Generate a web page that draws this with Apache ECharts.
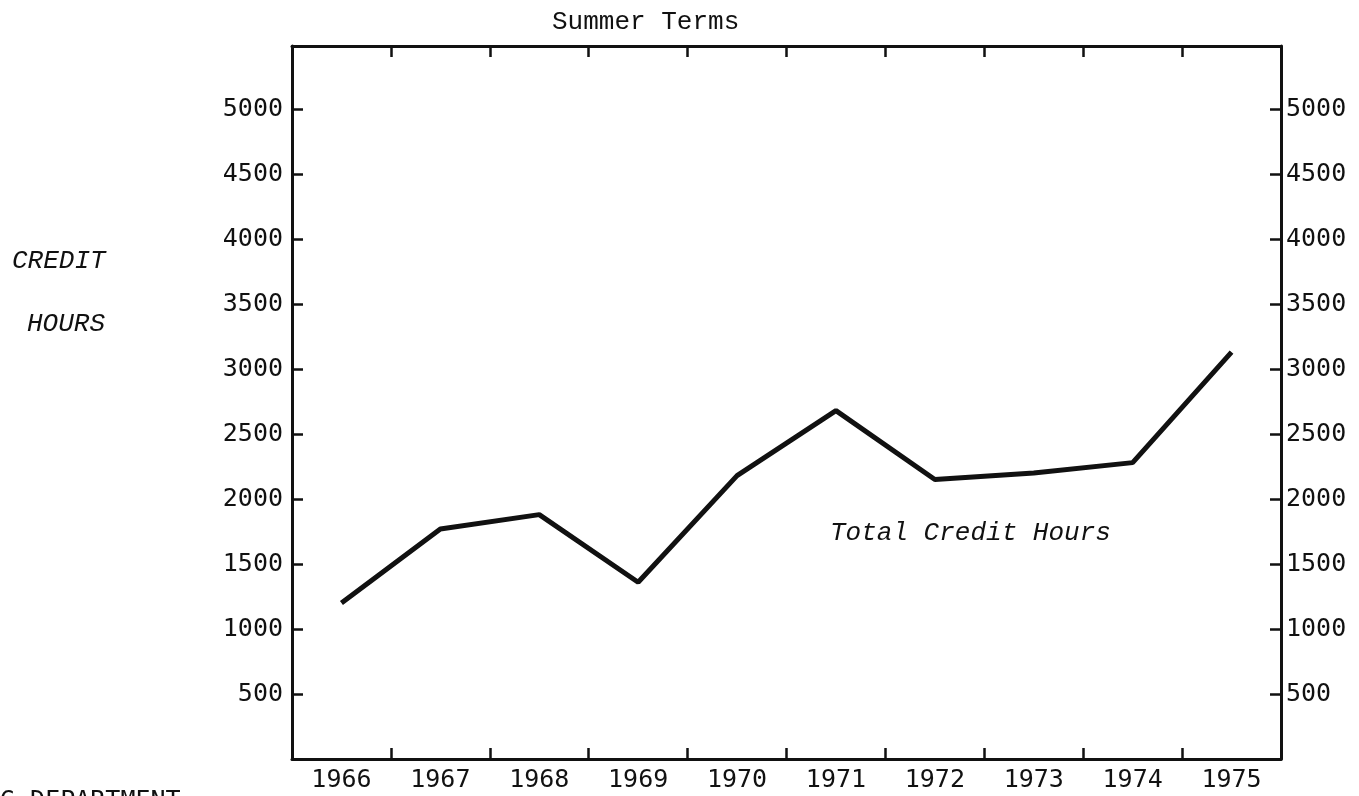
<!DOCTYPE html>
<html>
<head>
<meta charset="utf-8">
<script src="https://cdn.jsdelivr.net/npm/echarts@6/dist/echarts.min.js"></script>
<style>
  html, body { margin: 0; padding: 0; background: #fff; }
  #chart { width: 1359px; height: 796px; }
</style>
</head>
<body>
<div id="chart"></div>
<script>
// summer term credit hours
const years = ['1966', '1967', '1968', '1969', '1970', '1971', '1972', '1973', '1974', '1975']
const creditHours = [1200, 1770, 1880, 1360, 2180, 2680, 2150, 2200, 2280, 3130]
const yTicks = [500, 1000, 1500, 2000, 2500, 3000, 3500, 4000, 4500, 5000]

const ink = '#111'
const numFont = 'DejaVu Sans Mono'

const chart = echarts.init(document.getElementById('chart'))

const yLabel = v => (yTicks.indexOf(v) >= 0 ? String(v) : '')

function yAxisOf(pos) {
  return {
    type: 'value',
    position: pos,
    min: 0,
    max: 5485,
    interval: 500,
    splitLine: { show: false },
    axisLine: { show: true, onZero: false, lineStyle: { color: ink, width: 3 } },
    axisTick: { show: true, inside: true, length: 11, lineStyle: { color: ink, width: 2.5 } },
    axisLabel: {
      show: true,
      margin: pos === 'left' ? 9 : 5,
      color: ink,
      fontFamily: numFont,
      fontSize: 25,
      formatter: yLabel
    }
  }
}

chart.setOption({
  animation: false,
  backgroundColor: '#fff',
  grid: {
    left: 292,
    right: 78,
    top: 46,
    bottom: 37,
    outerBoundsMode: 'none'
  },
  xAxis: [{
    type: 'category',
    data: years,
    position: 'bottom',
    boundaryGap: true,
    axisLine: { onZero: false, lineStyle: { color: ink, width: 3 } },
    axisTick: { show: true, inside: true, length: 11, lineStyle: { color: ink, width: 2.5 } },
    axisLabel: { color: ink, fontFamily: numFont, fontSize: 25, margin: 9 }
  }, {
    type: 'category',
    data: years,
    position: 'top',
    boundaryGap: true,
    axisLine: { show: true, onZero: false, lineStyle: { color: ink, width: 3 } },
    axisTick: { show: true, inside: true, length: 11, lineStyle: { color: ink, width: 2.5 } },
    axisLabel: { show: false }
  }],
  yAxis: [yAxisOf('left'), yAxisOf('right')],
  series: [{
    name: 'Total Credit Hours',
    type: 'line',
    data: creditHours,
    symbol: 'none',
    lineStyle: { color: ink, width: 5 }
  }],
  graphic: [
    {
      type: 'text', left: 552, top: 9,
      style: { text: 'Summer Terms', fill: ink, font: '26px "Liberation Mono"' }
    },
    {
      type: 'text', left: 12, top: 248,
      style: { text: 'CREDIT', fill: ink, font: 'italic 26px "Liberation Mono"' }
    },
    {
      type: 'text', left: 27, top: 311,
      style: { text: 'HOURS', fill: ink, font: 'italic 26px "Liberation Mono"' }
    },
    {
      type: 'text', left: 830, top: 520,
      style: { text: 'Total Credit Hours', fill: ink, font: 'italic 26px "Liberation Mono"' }
    },
    {
      type: 'text', left: 0, top: 789,
      style: { text: 'G DEPARTMENT', fill: ink, font: '25px "DejaVu Sans Mono"' }
    }
  ]
})
</script>
</body>
</html>
